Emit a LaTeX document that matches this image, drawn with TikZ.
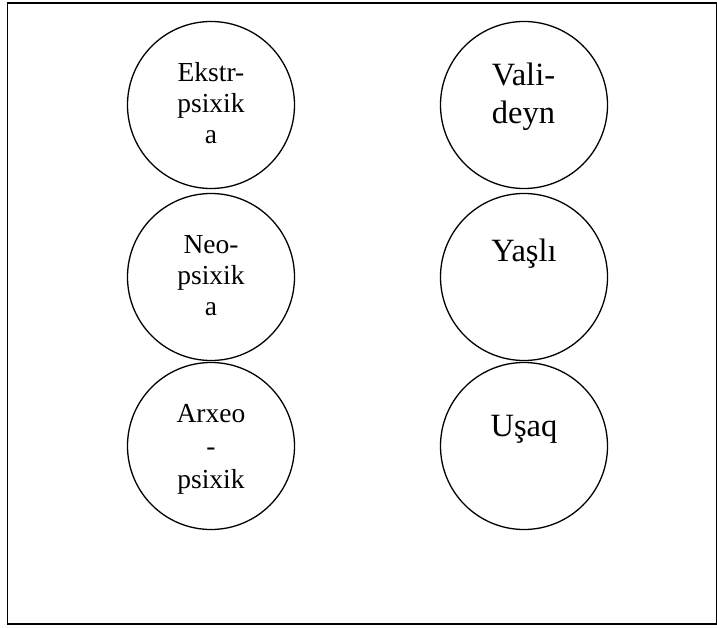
\documentclass[tikz,border=0pt]{standalone}
\usepackage{fontspec}
\setmainfont{Liberation Serif}
\begin{document}
\begin{tikzpicture}[x=1pt,y=-1pt,
  circ/.style={draw=black,line width=1.3pt,circle,minimum size=167pt,inner sep=0pt},
  ltxt/.style={anchor=base,inner sep=0pt,text width=120pt,align=center,font=\fontsize{27.5}{31}\selectfont},
  rtxt/.style={anchor=base,inner sep=0pt,text width=140pt,align=center,font=\fontsize{32.5}{37.7}\selectfont}]
\useasboundingbox (0,0) rectangle (717,628);
\draw[line width=1.6pt] (7.5,3) rectangle (716.5,624);
% left column
\node[circ] (c1) at (211,105) {};
\node[circ] (c2) at (211,277) {};
\node[circ] (c3) at (211,446) {};
% right column
\node[circ] (c4) at (524,105) {};
\node[circ] (c5) at (524,277) {};
\node[circ] (c6) at (524,446) {};
% texts
\node[ltxt] (t1) at (211,81.7) {Ekstr-\\psixik\\a};
\node[ltxt] (t2) at (211,254) {Neo-\\psixik\\a};
\node[ltxt,font=\fontsize{27.5}{32.7}\selectfont] (t3) at (211,422.7) {Arxeo\\-\\psixik};
\node[rtxt] (t4) at (523.5,85.7) {Vali-\\deyn};
\node[rtxt] (t5) at (524,261.7) {Yaşlı};
\node[rtxt] (t6) at (524,436) {Uşaq};
\end{tikzpicture}
\end{document}
